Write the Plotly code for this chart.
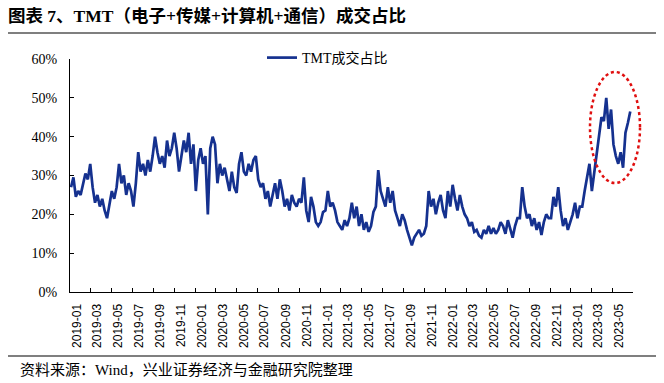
import pandas as pd
import plotly.graph_objects as go

# Weekly (Friday) TMT share of turnover, %
v2019 = [27, 29.5, 24.5, 26,
         25, 28, 30.5, 29,
         33, 27, 23, 25, 22,
         24, 21, 19, 23,
         26, 24, 27, 33, 28,
         30, 25, 28, 26,
         22, 28, 36, 31,
         33, 30, 34, 31, 35,
         40, 36, 33, 35,
         32, 39, 35, 37,
         41, 37, 31, 35, 39,
         36, 41, 33, 38]
v2020 = [26, 34, 37, 33, 35,
         20, 37, 40, 38,
         28, 33, 30, 32,
         29, 26, 31, 27,
         25.5, 33, 36, 31, 30,
         33, 31, 34, 35,
         29, 27, 28, 24, 26,
         22, 25, 28, 24,
         29, 26, 22, 24,
         21, 25, 23, 22, 24,
         23, 29.5, 21, 18,
         24.5, 22, 18, 17]
v2021 = [18, 20.6, 21, 26, 22,
         23, 21, 18, 17,
         16, 18.5, 17, 19,
         23, 19, 22, 17, 20,
         16, 18, 15.5, 17,
         20.6, 22, 31.4, 26,
         24, 22, 27, 23, 26,
         21, 19, 17, 20,
         18.5, 16, 14, 12,
         14, 15, 16, 14.5, 15,
         17, 26, 22, 24,
         20, 23, 25, 21, 19]
v2022 = [26, 22, 27.6, 24,
         21, 25, 22, 20,
         19, 17, 18, 15.5,
         16, 14.5, 14, 16, 15,
         17, 15, 16.5, 15,
         16, 18, 17, 15,
         18.5, 16, 14, 17, 19,
         19, 27, 22, 19,
         20, 17, 19, 16, 18,
         14.7, 18, 20, 19,
         19, 24.5, 22, 27,
         21, 17, 19, 16, 18]
v2023 = [20, 23, 19, 22,
         22, 26, 30, 33,
         26, 31, 35, 40, 45,
         44, 50, 42, 47,
         38, 35, 33, 36,
         32, 41, 43.5, 46.5]

values = v2019 + v2020 + v2021 + v2022 + v2023
dates = pd.date_range("2019-01-04", periods=len(values), freq="W-FRI")

tick_dates = pd.date_range("2019-01-01", "2023-05-01", freq="2MS")
tick_labels = [d.strftime("%Y-%m") for d in tick_dates]

series_name = "TMT成交占比"
title_text = "图表 7、TMT（电子+传媒+计算机+通信）成交占比"
source_text = "资料来源：Wind，兴业证券经济与金融研究院整理"

W, H = 664, 383
L, R, T, B = 70, 633, 59, 292


def px(x):
    return (x - L) / (R - L)


def py(y):
    return (B - y) / (B - T)


serif = "Liberation Serif, Noto Sans CJK SC"

fig = go.Figure()
fig.add_trace(go.Scatter(
    x=dates, y=values, mode="lines", name=series_name,
    line=dict(color="#15318F", width=2.7),
))

fig.update_layout(
    width=W, height=H,
    margin=dict(l=L, r=W - R, t=T, b=H - B),
    paper_bgcolor="white", plot_bgcolor="white",
    showlegend=True,
    legend=dict(x=px(262), y=py(58), xanchor="left", yanchor="middle",
                bgcolor="rgba(0,0,0,0)", font=dict(family=serif, size=14, color="black"),
                orientation="h"),
    title=dict(text="<b>" + title_text + "</b>", x=8 / W, xref="container", xanchor="left",
               y=1 - 16 / H, yref="container", yanchor="middle",
               font=dict(family=serif, size=17.5, color="black")),
    xaxis=dict(
        type="date", range=["2019-01-01", "2023-07-01"],
        tickvals=tick_dates, ticktext=tick_labels,
        tickangle=-90, ticks="inside", ticklen=4, tickcolor="black",
        showline=True, linecolor="black", linewidth=1.2,
        showgrid=False, zeroline=False,
        tickfont=dict(family="Liberation Sans", size=12, color="black"),
        ticklabelshift=7, ticklabelstandoff=6,
    ),
    yaxis=dict(
        range=[0, 60], dtick=10, ticksuffix="%",
        ticks="inside", ticklen=4, tickcolor="black",
        showline=True, linecolor="black", linewidth=1.2,
        showgrid=False, zeroline=False,
        tickfont=dict(family=serif, size=14, color="black"),
        ticklabelstandoff=9,
    ),
    shapes=[
        dict(type="line", xref="paper", yref="paper", x0=px(8), x1=px(656), y0=py(33), y1=py(33),
             line=dict(color="black", width=1.2)),
        dict(type="line", xref="paper", yref="paper", x0=px(8), x1=px(656), y0=py(356), y1=py(356),
             line=dict(color="black", width=1.2)),
        dict(type="circle", xref="paper", yref="paper", x0=px(590), x1=px(640), y0=py(183), y1=py(72),
             line=dict(color="#E01010", width=2.5, dash="dot")),
    ],
    annotations=[
        dict(text=source_text, xref="paper", yref="paper", x=px(18), y=py(369),
             xanchor="left", yanchor="middle", showarrow=False,
             font=dict(family=serif, size=15, color="black")),
    ],
)

fig.write_html("out.html", config={"displayModeBar": False},
               post_script="document.body.style.margin='0';document.body.style.overflow='hidden';")
